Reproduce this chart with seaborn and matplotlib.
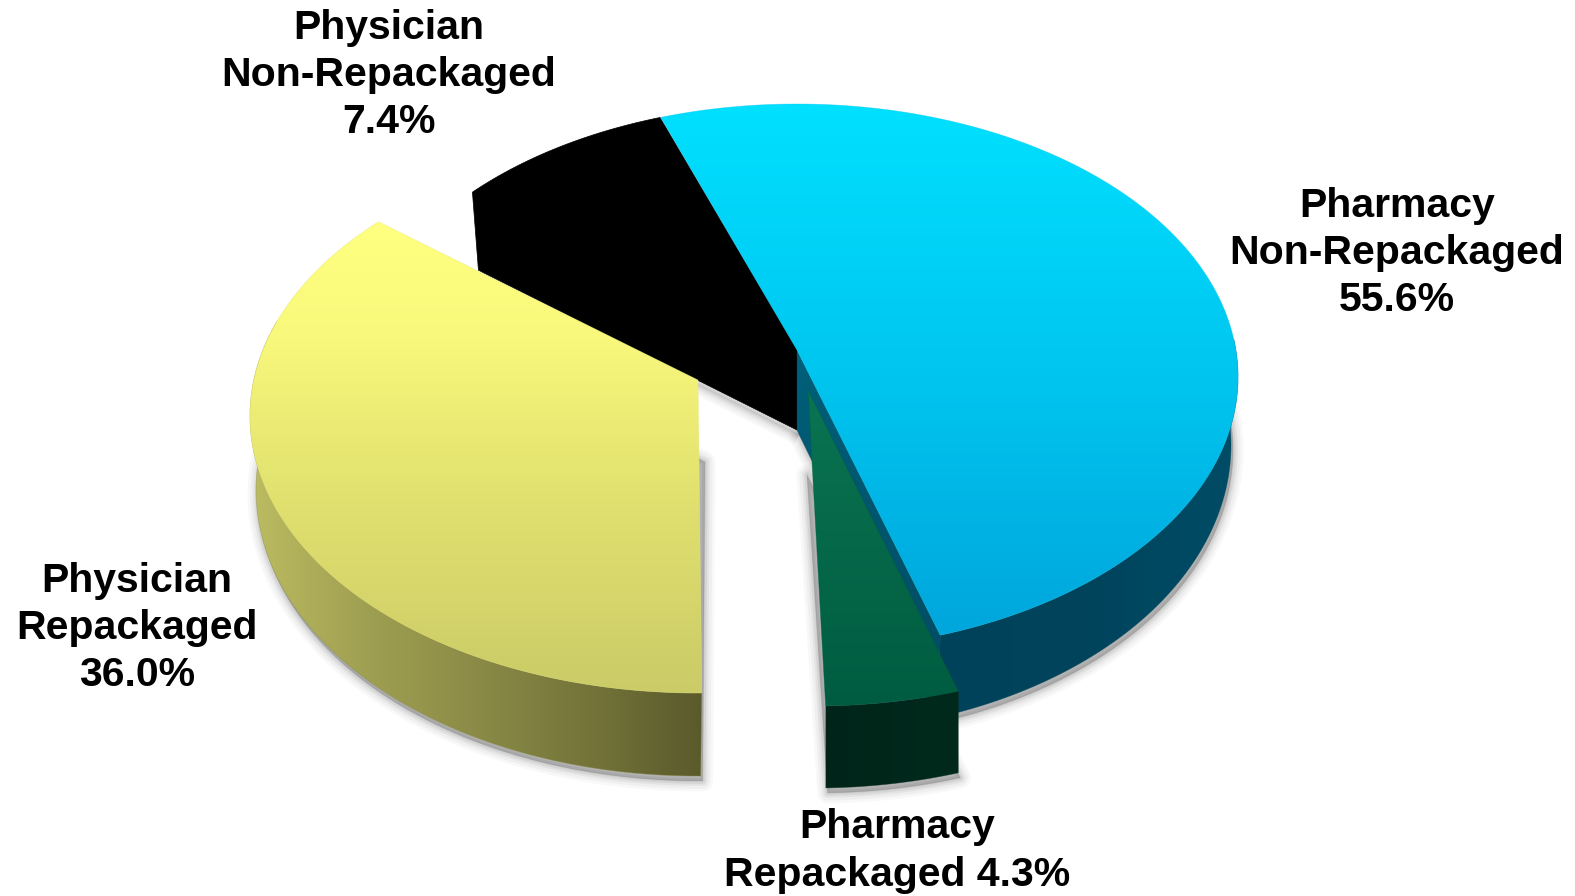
import numpy as np
import matplotlib
matplotlib.use("Agg")
import matplotlib.pyplot as plt
from matplotlib.patches import Polygon
import seaborn as sns

# data
categories = ["Pharmacy\nNon-Repackaged", "Pharmacy\nRepackaged", "Physician\nRepackaged", "Physician\nNon-Repackaged"]
shares = [55.6, 4.3, 36.0, 7.4]

sns.set_theme(style="white")
plt.rcParams["font.family"] = ["Liberation Sans", "DejaVu Sans"]

# the original 3D pie is foreshortened, so slices do not keep their true sweep
squash = [0.924, 1.173, 1.076, 1.136]
nudge = [0, 0, 0.9, -1.0]
first_angle = -18.0

vals = np.array(shares)
sweep = vals / vals.sum() * 360 * np.array(squash)
starts = first_angle + np.concatenate([[0], np.cumsum(sweep)[:-1]]) + np.array(nudge)
ends = starts + sweep

fig = plt.figure(figsize=(15.75, 8.96), dpi=100, facecolor="white")
ax = fig.add_axes([0, 0, 1, 1])


def rim(c, r, a0, a1, n=160):
    t = np.radians(np.linspace(a0, a1, n))
    return np.column_stack([c[0] + r[0] * np.sin(t), c[1] - r[1] * np.cos(t)])


def fill(pts, colors, horizontal=False, z=1):
    # polygon filled with a linear gradient
    patch = Polygon(pts, closed=True, fc="none", ec="none", zorder=z)
    ax.add_patch(patch)
    cmap = sns.blend_palette(colors, as_cmap=True)
    x0, y0 = pts.min(axis=0)
    x1, y1 = pts.max(axis=0)
    g = np.linspace(0, 1, 256)
    g = g[None, :] if horizontal else g[:, None]
    im = ax.imshow(g, cmap=cmap, extent=(x0, x1, y1, y0), aspect="auto", zorder=z, interpolation="bilinear")
    im.set_clip_path(patch)
    # soft edge so the clip does not look jagged
    ax.add_patch(Polygon(pts, closed=True, fc="none", ec=colors[len(colors) // 2], lw=0.5, alpha=0.5, zorder=z))


def shadow(pts):
    for lw, a in [(15, 0.04), (11, 0.06), (7, 0.08), (4, 0.10), (1, 0.14)]:
        ax.add_patch(Polygon(pts + [2, 5], closed=True, fc="#606060", ec="#606060", lw=lw, alpha=a,
                             joinstyle="round", zorder=0))


# slice geometry in picture pixels: top ellipse, bottom ellipse, apex
blue_c, blue_r, blue_b, blue_rb = (797, 377), (441, 273), (797, 445), (434, 288)
green_c, green_r, green_b, green_rb = (815, 433), (441, 273), (815, 508), (441, 280)
yel_c, yel_r, yel_b, yel_rb = (698, 416), (448, 277), (697, 490), (441, 286)
blue_apex = np.array([797, 350.0])
green_apex = np.array([808, 390.0])
yel_apex = np.array([698, 380.0])

# shadows under the slices
shadow(np.vstack([blue_apex + [0, 80], rim(blue_b, blue_rb, starts[0] + 60, ends[0])]))
shadow(np.vstack([green_apex + [-3, 80], rim(green_b, green_rb, starts[1], ends[1])]))
shadow(np.vstack([yel_apex + [5, 77], rim(yel_b, yel_rb, starts[2], ends[2])]))

# black slice, side and top are the same colour
arc = rim(blue_c, blue_r, starts[3], ends[3])
black = np.vstack([blue_apex, arc[::-1], arc[0] + [6, 78], blue_apex + [0, 80]])
shadow(np.vstack([blue_apex + [0, 80], arc[0] + [6, 78]]))
ax.add_patch(Polygon(black, closed=True, fc="black", ec="black", lw=0.5, zorder=2))

# blue slice
top_end = rim(blue_c, blue_r, ends[0], ends[0], 1)[0]
bot_end = rim(blue_b, blue_rb, ends[0], ends[0], 1)[0]
fill(np.vstack([blue_apex, blue_apex + [0, 80], bot_end, top_end]), ["#00607a", "#004a60"], z=3)
fill(np.vstack([rim(blue_c, blue_r, 82, ends[0]), rim(blue_b, blue_rb, ends[0], 82)]),
     ["#00425a", "#00445c", "#004c66"], horizontal=True, z=3)
fill(np.vstack([blue_apex, rim(blue_c, blue_r, starts[0], ends[0])]), ["#00e0ff", "#00c6f0", "#00a6dc"], z=4)

# green slice
fill(np.vstack([rim(green_c, green_r, starts[1], ends[1]), rim(green_b, green_rb, ends[1], starts[1])]),
     ["#00241a", "#002a1c"], horizontal=True, z=5)
fill(np.vstack([green_apex, rim(green_c, green_r, starts[1], ends[1])]), ["#0a7452", "#005c40"], z=6)

# yellow slice
fill(np.vstack([rim(yel_c, yel_r, starts[2], 290), rim(yel_b, yel_rb, 290, starts[2])]),
     ["#bcbc62", "#a0a052", "#8b8b47", "#74743a", "#5a5a2c"], horizontal=True, z=7)
fill(np.vstack([yel_apex, rim(yel_c, yel_r, starts[2], ends[2])]),
     ["#ffff80", "#f8f87c", "#e6e672", "#d8d86c", "#cbcb68"], z=8)

ax.set_xlim(0, 1575)
ax.set_ylim(896, 0)
ax.axis("off")

# labels
label_xy = [(1397, 253), (897, 851), (137, 628), (389, 75)]
for i, (name, v, xy) in enumerate(zip(categories, shares, label_xy)):
    sep = " " if name == "Pharmacy\nRepackaged" else "\n"
    ax.text(xy[0], xy[1], f"{name}{sep}{v:.1f}%", ha="center", va="center", multialignment="center",
            fontsize=29.5, fontweight="bold", color="black", linespacing=1.31, zorder=10)

fig.savefig("out.png", dpi=100, facecolor="white")
